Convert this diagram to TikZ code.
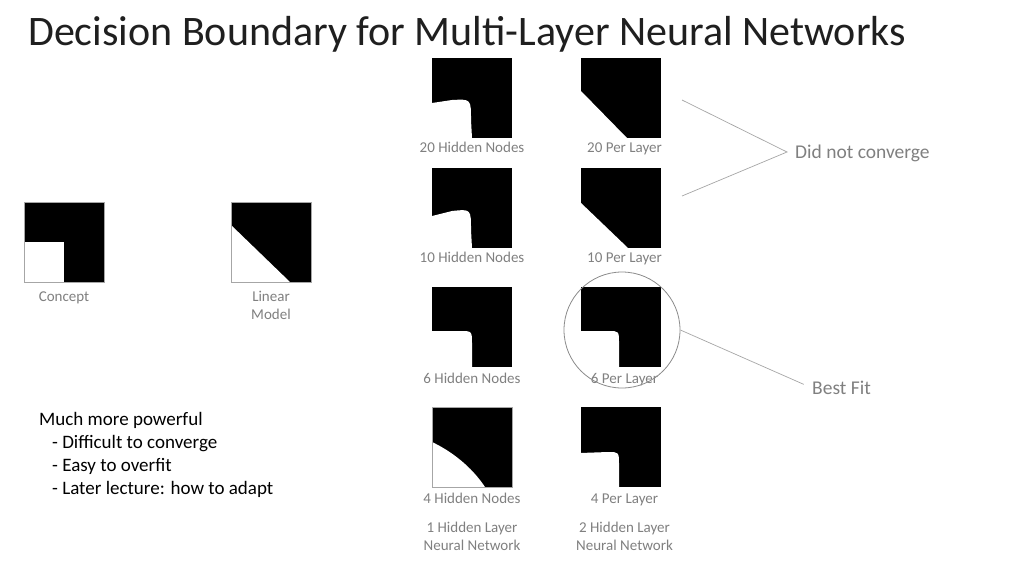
\documentclass[tikz,border=0pt]{standalone}
\usepackage{fontspec}
\setmainfont{Carlito}
\usetikzlibrary{positioning}
\definecolor{labelgray}{HTML}{808080}
\definecolor{linegray}{HTML}{A6A6A6}
\definecolor{titlegray}{HTML}{1F1F1F}
\tikzset{
  img/.style={fill=black,minimum size=80pt,inner sep=0pt,outer sep=0pt},
  frame/.style={draw=gray!70,line width=0.8pt},
  lbl/.style={text=labelgray,inner sep=0pt,text height=10.5pt,text depth=3pt,
    font=\fontsize{15}{18}\selectfont},
  lbltwo/.style={text=labelgray,inner sep=0pt,align=center,
    font=\fontsize{15}{18}\selectfont},
  note/.style={text=labelgray,inner sep=0pt,font=\fontsize{19.5}{23}\selectfont},
  pointer/.style={draw=linegray,line width=0.7pt}
}
\begin{document}
\begin{tikzpicture}[x=1pt,y=-1pt]
\useasboundingbox[fill=white] (0,0) rectangle (1024,576);
\node[anchor=base west,text=titlegray,inner sep=0pt,font=\fontsize{42}{50}\selectfont] (title) at (28,45)
  {Decision Boundary for Multi-Layer Neural Networks};

% concept and linear model
\node[img] (concept) at (64,242) {};
\fill[white] (24,242) rectangle (64,282);
\draw[frame] (concept.south west) rectangle (concept.north east);
\node[lbl,below=9pt of concept] (conceptlbl) {Concept};

\node[img] (linear) at (271,242) {};
\fill[white] (231,225) -- (231,282) -- (290,282) -- cycle;
\draw[frame] (linear.south west) rectangle (linear.north east);
\node[lbltwo,below=9pt of linear] (linearlbl) {Linear\\Model};

% one hidden layer
\node[img] (h20) at (472,98) {};
\fill[white] (432,138) -- (432,103) -- (452,100) .. controls (471,99) .. (471,120) -- (472,138) -- cycle;
\node[lbl,below=4pt of h20] (h20lbl) {20 Hidden Nodes};

\node[img] (h10) at (472,207.5) {};
\fill[white] (432,248) -- (432,216) -- (452,211) .. controls (471,209) .. (471,230) -- (472,248) -- cycle;
\node[lbl,below=4pt of h10] (h10lbl) {10 Hidden Nodes};

\node[img] (h6) at (472,326.5) {};
\fill[white] (432,367) -- (432,331) -- (460,331) .. controls (472,331) .. (472,344) -- (472,367) -- cycle;
\node[lbl,below=6pt of h6] (h6lbl) {6 Hidden Nodes};

\node[img] (h4) at (472,447) {};
\fill[white] (432,487) -- (432,442) .. controls (451,451) and (471,466) .. (485,487) -- cycle;
\draw[frame] (h4.south west) rectangle (h4.north east);
\node[lbl,below=6pt of h4] (h4lbl) {4 Hidden Nodes};
\node[lbltwo,below=15pt of h4lbl] (onelayer) {1 Hidden Layer\\Neural Network};

% two hidden layers
\node[img] (p20) at (620.5,98) {};
\fill[white] (580,90) -- (627,138) -- (580,138) -- cycle;
\node[lbl,below=4pt of p20,xshift=4pt] (p20lbl) {20 Per Layer};

\node[img] (p10) at (620.5,207.5) {};
\fill[white] (580,202) -- (628,248) -- (580,248) -- cycle;
\node[lbl,below=4pt of p10,xshift=4pt] (p10lbl) {10 Per Layer};

\node[img] (p6) at (620.5,326.5) {};
\fill[white] (580,367) -- (580,331) -- (608,331) .. controls (619,331) .. (619,343) -- (619,367) -- cycle;
\node[lbl,below=6pt of p6,xshift=4pt] (p6lbl) {6 Per Layer};

\node[img] (p4) at (620.5,447) {};
\fill[white] (580,487) -- (580,453) -- (608,452) .. controls (619,452) .. (619,465) -- (619,487) -- cycle;
\node[lbl,below=6pt of p4,xshift=4pt] (p4lbl) {4 Per Layer};
\node[lbltwo,below=15pt of p4lbl] (twolayer) {2 Hidden Layer\\Neural Network};

% remarks
\node[note,anchor=west] (dnc) at (795,153) {Did not converge};
\coordinate (dnc-a) at (682,100);
\coordinate (dnc-b) at (682,196);
\draw[pointer] (dnc-a) -- ([xshift=-8pt,yshift=1pt]dnc.west) -- (dnc-b);

\node[draw=gray!90,line width=0.8pt,circle,minimum size=116pt] (best) at (622,330) {};
\node[note,anchor=west] (fit) at (812,388) {Best Fit};
\draw[pointer,shorten >=9pt] (best.east) -- (fit.west);

\node[anchor=north west,inner sep=0pt,align=left,text=black,font=\fontsize{19}{23}\selectfont] (summary) at (39,412)
  {Much more powerful\\
   \hspace*{13pt}- Difficult to converge\\
   \hspace*{13pt}- Easy to overfit\\
   \hspace*{13pt}- Later lecture: how to adapt};
\end{tikzpicture}
\end{document}
